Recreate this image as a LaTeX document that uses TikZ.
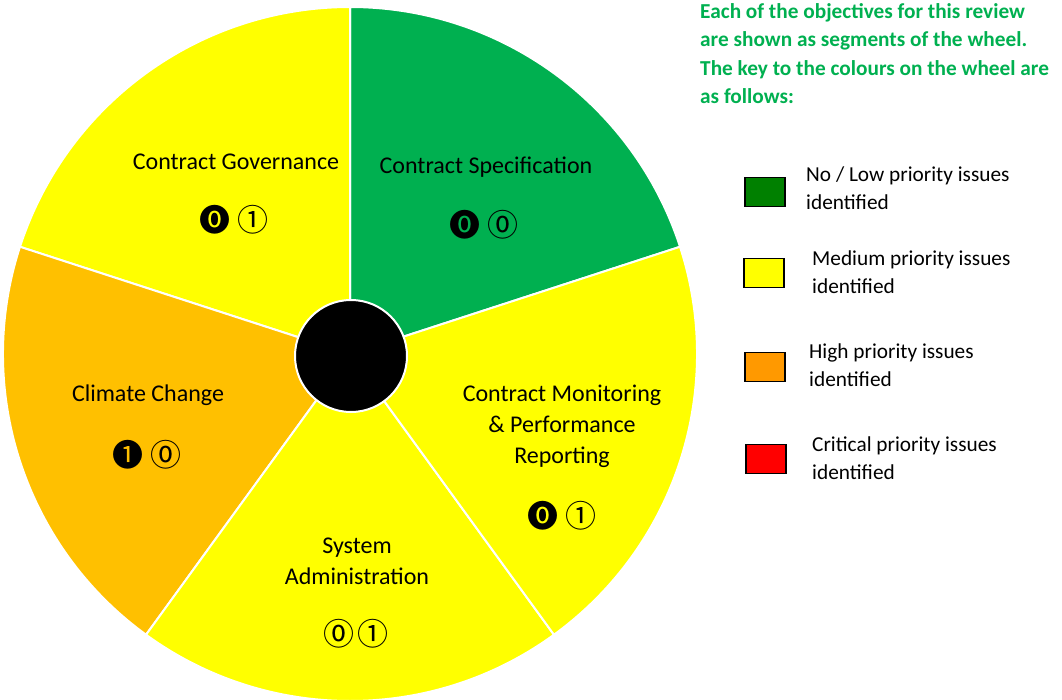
\documentclass[tikz,border=0pt]{standalone}
\usepackage{fontspec}
\setmainfont{Carlito}
\newfontfamily\symfont{Noto Sans CJK SC}
\definecolor{wheelgreen}{HTML}{00B050}
\definecolor{wheelyellow}{HTML}{FFFF00}
\definecolor{wheelorange}{HTML}{FFC000}
\definecolor{keygreen}{HTML}{008000}
\definecolor{keyorange}{HTML}{FF9900}
\definecolor{keyred}{HTML}{FF0000}
\definecolor{titlegreen}{HTML}{00B050}
\begin{document}
\begin{tikzpicture}[x=1pt,y=-1pt,
  segment/.style={draw=white,line width=2pt,line join=round},
  seglabel/.style={font=\fontsize{24}{31}\selectfont,align=center,inner sep=0pt},
  score/.style={font=\symfont\fontsize{31}{34}\selectfont,inner sep=0pt},
  keybox/.style={draw=black,line width=1.5pt,minimum width=40pt,minimum height=29pt,inner sep=0pt},
  keytext/.style={font=\fontsize{21.3}{28.5}\selectfont,align=left,anchor=west,inner sep=0pt},
  intro/.style={font=\bfseries\fontsize{21.3}{28.5}\selectfont,text=titlegreen,align=left,anchor=north west,inner sep=0pt}]
\useasboundingbox (0,0) rectangle (1062,700);
\coordinate (c) at (350,354);
\def\R{347}
% wheel segments (angles negated because the y axis points down)
\filldraw[segment,fill=wheelgreen]  (c) -- ++(-18:\R)  arc[start angle=-18,  end angle=-90,  radius=\R] -- cycle;
\filldraw[segment,fill=wheelyellow] (c) -- ++(-90:\R)  arc[start angle=-90,  end angle=-162, radius=\R] -- cycle;
\filldraw[segment,fill=wheelorange] (c) -- ++(-162:\R) arc[start angle=-162, end angle=-234, radius=\R] -- cycle;
\filldraw[segment,fill=wheelyellow] (c) -- ++(-234:\R) arc[start angle=-234, end angle=-306, radius=\R] -- cycle;
\filldraw[segment,fill=wheelyellow] (c) -- ++(-306:\R) arc[start angle=-306, end angle=-378, radius=\R] -- cycle;
% hub
\node[circle,fill=black,draw=white,line width=2pt,minimum size=112pt,inner sep=0pt] (hub) at (351,356) {};
% segment labels and their scores
\node[seglabel] (spec) at (486,167) {Contract Specification};
\node[score] (specA) at (465,225) {⓿};
\node[score] (specB) at (503,225) {⓪};
\node[seglabel] (gov) at (236,162) {Contract Governance};
\node[score] (govA) at (215,220) {⓿};
\node[score] (govB) at (253,220) {①};
\node[seglabel] (climate) at (148,395) {Climate Change};
\node[score] (climateA) at (128,455) {❶};
\node[score] (climateB) at (166,455) {⓪};
\node[seglabel] (sysadmin) at (357,561) {System\\Administration};
\node[score] (sysadminA) at (339,634) {⓪};
\node[score] (sysadminB) at (373,634) {①};
\node[seglabel] (monitor) at (562,426) {Contract Monitoring\\\& Performance\\Reporting};
\node[score] (monitorA) at (543,516) {⓿};
\node[score] (monitorB) at (581,516) {①};
% introduction
\node[intro] (introtext) at (700,3) {Each of the objectives for this review\\are shown as segments of the wheel.\\The key to the colours on the wheel are\\as follows:};
% key
\node[keybox,fill=keygreen]  (kg) at (765,192) {};
\node[keybox,fill=wheelyellow] (ky) at (764,273) {};
\node[keybox,fill=keyorange] (ko) at (765,367) {};
\node[keybox,fill=keyred]    (kr) at (766,459) {};
\node[keytext] (kgt) at (806,188) {No / Low priority issues\\identified};
\node[keytext] (kyt) at (812,272) {Medium priority issues\\identified};
\node[keytext] (kot) at (809,365) {High priority issues\\identified};
\node[keytext] (krt) at (812,458) {Critical priority issues\\identified};
\end{tikzpicture}
\end{document}
